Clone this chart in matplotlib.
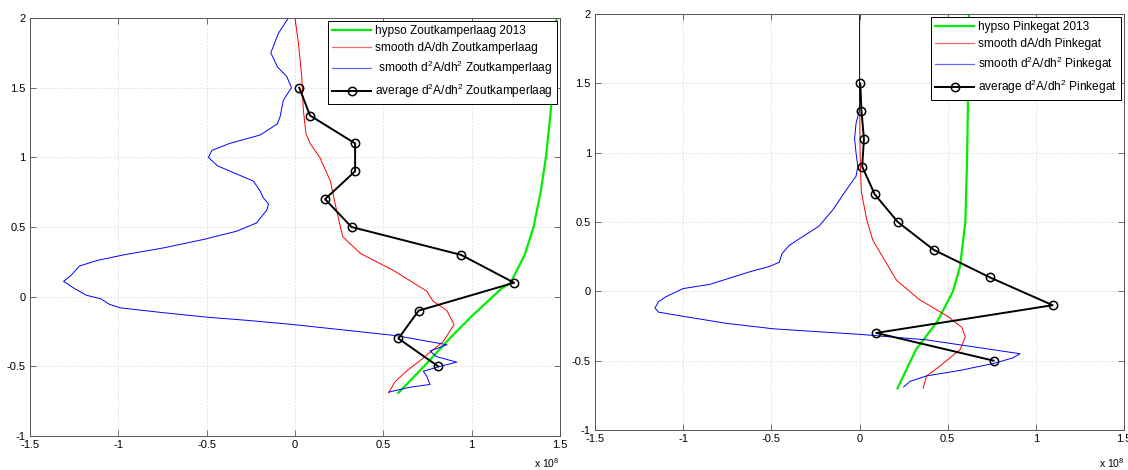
import numpy as np
import matplotlib
matplotlib.use('Agg')
import matplotlib.pyplot as plt
from matplotlib.ticker import FormatStrFormatter

OUT_FILE = 'out.png'

# heights of the averaged d2A/dh2 points (m)
avg_h = [1.5, 1.3, 1.1, 0.9, 0.7, 0.5, 0.3, 0.1, -0.1, -0.3, -0.5]

# Zoutkamperlaag (values x 1e8)
zk_avg = [0.024, 0.085, 0.34, 0.34, 0.17, 0.32, 0.94, 1.24, 0.70, 0.585, 0.81]
zk_hyp_h = [-0.69, -0.5, -0.3, -0.14, 0.06, 0.1, 0.3, 0.5, 0.75, 1.0, 1.3, 1.6, 2.0]
zk_hyp = [0.585, 0.73, 0.875, 1.0, 1.17, 1.22, 1.30, 1.35, 1.39, 1.42, 1.445, 1.465, 1.48]
zk_dadh_h = [2.0, 1.82, 1.58, 1.34, 1.17, 1.10, 1.0, 0.83, 0.62, 0.43, 0.31, 0.19,
             0.04, -0.03, -0.10, -0.20, -0.32, -0.44, -0.535, -0.61, -0.69]
zk_dadh = [0.0, 0.019, 0.038, 0.047, 0.062, 0.085, 0.14, 0.2, 0.235, 0.27, 0.37, 0.555,
           0.745, 0.78, 0.86, 0.90, 0.84, 0.726, 0.63, 0.566, 0.53]
zk_d2_h = [2.0, 1.89, 1.75, 1.65, 1.58, 1.5, 1.41, 1.29, 1.24, 1.16, 1.10, 1.05, 1.0,
           0.94, 0.88, 0.83, 0.76, 0.71, 0.665, 0.62, 0.59, 0.53, 0.47, 0.41, 0.35,
           0.30, 0.26, 0.22, 0.15, 0.11, 0.06, 0.01, -0.015, -0.055, -0.08, -0.115,
           -0.147, -0.17, -0.20, -0.28, -0.345, -0.39, -0.43, -0.47, -0.50, -0.535,
           -0.57, -0.63, -0.65, -0.685]
zk_d2 = [-0.038, -0.094, -0.137, -0.10, -0.047, -0.02, -0.066, -0.085, -0.10, -0.198,
         -0.37, -0.47, -0.49, -0.44, -0.33, -0.236, -0.198, -0.18, -0.15, -0.16, -0.18,
         -0.217, -0.33, -0.52, -0.745, -0.97, -1.12, -1.22, -1.27, -1.31, -1.25, -1.18,
         -1.10, -1.05, -0.99, -0.745, -0.50, -0.27, -0.01, 0.575, 0.86, 0.764, 0.80,
         0.915, 0.82, 0.726, 0.745, 0.764, 0.65, 0.53]

# Pinkegat (values x 1e8)
pg_avg = [0.004, 0.011, 0.025, 0.015, 0.086, 0.217, 0.42, 0.74, 1.095, 0.095, 0.76]
pg_hyp_h = [-0.7, -0.42, -0.22, 0.0, 0.18, 0.5, 0.96, 1.46, 2.0]
pg_hyp = [0.215, 0.32, 0.44, 0.53, 0.57, 0.60, 0.61, 0.616, 0.62]
pg_dadh_h = [2.0, 1.5, 1.0, 0.9, 0.72, 0.52, 0.37, 0.25, 0.08, -0.06, -0.18, -0.26,
             -0.33, -0.42, -0.54, -0.61, -0.7]
pg_dadh = [0.0, 0.0, 0.003, 0.005, 0.01, 0.04, 0.075, 0.13, 0.21, 0.34, 0.50, 0.58,
           0.60, 0.57, 0.455, 0.38, 0.36]
pg_d2_h = [2.0, 1.31, 1.21, 1.10, 1.0, 0.90, 0.83, 0.73, 0.59, 0.47, 0.38, 0.33, 0.27,
           0.21, 0.18, 0.14, 0.05, 0.02, -0.04, -0.075, -0.12, -0.15, -0.18, -0.23,
           -0.27, -0.29, -0.31, -0.35, -0.45, -0.48, -0.52, -0.57, -0.61, -0.65, -0.69]
pg_d2 = [0.0, 0.0, -0.02, -0.028, -0.02, -0.01, -0.02, -0.076, -0.15, -0.23, -0.34,
         -0.40, -0.44, -0.455, -0.51, -0.625, -0.85, -1.0, -1.10, -1.14, -1.16, -1.14,
         -1.0, -0.76, -0.49, -0.25, 0.0, 0.38, 0.91, 0.87, 0.76, 0.57, 0.38, 0.285, 0.25]

x_ticks = [-1.5, -1, -0.5, 0, 0.5, 1, 1.5]
y_ticks = [-1, -0.5, 0, 0.5, 1, 1.5, 2]

D2 = 'd$\\mathregular{^2}$A/dh$\\mathregular{^2}$'


def drawPanel(ax, name, hyp, hyp_h, dadh, dadh_h, d2, d2_h, avg, blue_label):
    ax.plot(hyp, hyp_h, color='#00ee00', lw=1.6, label='hypso %s 2013' % name)
    ax.plot(dadh, dadh_h, color='#ff0000', lw=0.7, label='smooth dA/dh %s' % name)
    ax.plot(d2, d2_h, color='#0000ff', lw=0.7, label=blue_label)
    ax.plot(avg, avg_h, color='black', lw=1.4, marker='o', ms=6, mfc='none', mew=1.1,
            label='average %s %s' % (D2, name))
    ax.set_xlim(-1.5, 1.5)
    ax.set_ylim(-1, 2)
    ax.set_xticks(x_ticks)
    ax.set_yticks(y_ticks)
    ax.xaxis.set_major_formatter(FormatStrFormatter('%g'))
    ax.yaxis.set_major_formatter(FormatStrFormatter('%g'))
    ax.grid(True, color='#d9d9d9', ls=(0, (2, 2)), lw=0.6)
    ax.tick_params(direction='in', length=4, width=0.6, color='#555555',
                   top=True, right=True, labelsize=8, pad=3)
    for s in ax.spines.values():
        s.set_color('#555555')
        s.set_linewidth(0.7)
    leg = ax.legend(loc='upper right', fontsize=8.6, handlelength=3.3, handletextpad=0.3,
                    borderpad=0.35, labelspacing=0.4, fancybox=False, framealpha=1,
                    borderaxespad=0.25)
    leg.get_frame().set_edgecolor('black')
    leg.get_frame().set_linewidth(0.7)
    for ln in leg.get_lines():
        if ln.get_linewidth() < 1:
            ln.set_linewidth(0.9)
            ln.set_alpha(0.6)


def main():
    plt.rcParams['font.family'] = ['Liberation Sans', 'DejaVu Sans']
    fig = plt.figure(figsize=(11.28, 4.70), dpi=100)
    ax1 = fig.add_axes([0.0266, 0.0723, 0.4699, 0.8894])
    ax2 = fig.add_axes([0.5275, 0.0851, 0.4690, 0.8851])

    drawPanel(ax1, 'Zoutkamperlaag', zk_hyp, zk_hyp_h, zk_dadh, zk_dadh_h, zk_d2, zk_d2_h,
              zk_avg, ' smooth %s Zoutkamperlaag' % D2)
    drawPanel(ax2, 'Pinkegat', pg_hyp, pg_hyp_h, pg_dadh, pg_dadh_h, pg_d2, pg_d2_h,
              pg_avg, 'smooth %s Pinkegat' % D2)

    fig.text(534 / 1128, 1 - 463 / 470, 'x 10$\\mathregular{^8}$', fontsize=7.5,
             va='center', ha='left')
    fig.text(1099 / 1128, 1 - 463 / 470, 'x 10$\\mathregular{^8}$', fontsize=7.5,
             va='center', ha='left')

    fig.savefig(OUT_FILE, dpi=100)


if __name__ == '__main__':
    main()
